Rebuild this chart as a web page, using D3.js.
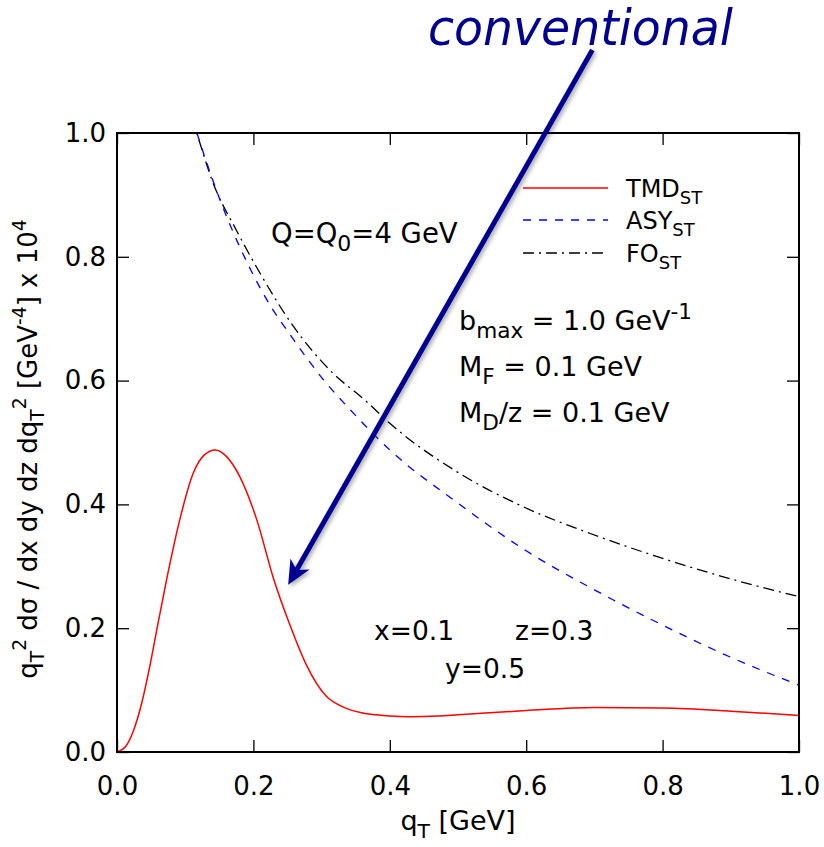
<!DOCTYPE html>
<html><head><meta charset="utf-8">
<script src="https://cdn.jsdelivr.net/npm/d3@7"></script>
<style>
html,body{margin:0;padding:0;background:#fff;}
text{font-family:"DejaVu Sans",sans-serif;fill:#000;}
</style></head>
<body>
<svg id="chart" width="824" height="847"></svg>
<script>
// ---- data ----
const tmdQ = [0, 0.012, 0.024, 0.036, 0.048, 0.060, 0.073, 0.092, 0.112, 0.128, 0.144, 0.160, 0.180, 0.205, 0.229, 0.254, 0.278, 0.307, 0.325, 0.342, 0.36, 0.38, 0.40, 0.43, 0.47, 0.50, 0.60, 0.70, 0.80, 0.90, 1.00];
const tmdV = [0, 0.008, 0.034, 0.078, 0.138, 0.207, 0.280, 0.375, 0.451, 0.480, 0.488, 0.478, 0.445, 0.375, 0.282, 0.204, 0.140, 0.090, 0.076, 0.068, 0.063, 0.060, 0.058, 0.057, 0.058, 0.060, 0.067, 0.072, 0.071, 0.066, 0.059];
const asyQ = [0.11, 0.127, 0.151, 0.180, 0.220, 0.259, 0.303, 0.347, 0.400, 0.50, 0.60, 0.70, 0.80, 0.90, 1.00];
const asyV = [1.025, 0.967, 0.892, 0.816, 0.730, 0.666, 0.601, 0.547, 0.488, 0.402, 0.325, 0.262, 0.205, 0.153, 0.108];
const foQ = [0.11, 0.117, 0.141, 0.175, 0.210, 0.259, 0.312, 0.366, 0.400, 0.498, 0.596, 0.694, 0.791, 0.889, 1.00];
const foV = [1.025, 1.0, 0.919, 0.843, 0.773, 0.687, 0.617, 0.566, 0.531, 0.453, 0.396, 0.353, 0.316, 0.283, 0.251];
const tickVals = [0, 0.2, 0.4, 0.6, 0.8, 1.0];
const tickLabels = ["0.0", "0.2", "0.4", "0.6", "0.8", "1.0"];
const legendNames = [["TMD","ST"], ["ASY","ST"], ["FO","ST"]];
// annotation arrow (data units): from tail to tip
const arrowTail = [0.697, 1.134];
const arrowTip = [0.251, 0.270];

// ---- layout ----
const svg = d3.select("#chart");
const L = 117, R = 799, T = 133, B = 752;
const x = d3.scaleLinear().domain([0, 1]).range([L, R]);
const y = d3.scaleLinear().domain([0, 1]).range([B, T]);

const defs = svg.append("defs");
defs.append("clipPath").attr("id", "clip").append("rect")
  .attr("x", L).attr("y", T).attr("width", R - L).attr("height", B - T);
const f = defs.append("filter").attr("id", "shadow").attr("x", "-20%").attr("y", "-20%").attr("width", "140%").attr("height", "140%");
f.append("feDropShadow").attr("dx", 2).attr("dy", 2).attr("stdDeviation", 2).attr("flood-color", "#000").attr("flood-opacity", 0.35);

// axes
const fmt = (d) => tickLabels[tickVals.indexOf(d)];
const gL = svg.append("g").attr("transform", `translate(${L},0)`)
  .call(d3.axisLeft(y).tickValues(tickVals).tickFormat(fmt).tickSize(-12).tickPadding(11));
const gB = svg.append("g").attr("transform", `translate(0,${B})`)
  .call(d3.axisBottom(x).tickValues(tickVals).tickFormat(fmt).tickSize(-12).tickPadding(25));
const gR = svg.append("g").attr("transform", `translate(${R},0)`)
  .call(d3.axisRight(y).tickValues(tickVals).tickFormat("").tickSize(-12));
const gT = svg.append("g").attr("transform", `translate(0,${T})`)
  .call(d3.axisTop(x).tickValues(tickVals).tickFormat("").tickSize(-12));
[gL, gB, gR, gT].forEach(g => {
  g.select(".domain").remove();
  g.selectAll(".tick line").attr("stroke", "#000").attr("stroke-width", 1.3);
  g.selectAll("text").attr("font-family", "DejaVu Sans").attr("font-size", 26).attr("fill", "#000");
});

// curves
const line = d3.line().x(d => x(d[0])).y(d => y(d[1])).curve(d3.curveMonotoneX);
const plot = svg.append("g").attr("clip-path", "url(#clip)");
plot.append("path").datum(foQ.map((q, i) => [q, foV[i]]))
  .attr("d", line).attr("fill", "none").attr("stroke", "#000").attr("stroke-width", 1.3)
  .attr("stroke-dasharray", "11,5,2,5");
plot.append("path").datum(asyQ.map((q, i) => [q, asyV[i]]))
  .attr("d", line).attr("fill", "none").attr("stroke", "#0000ff").attr("stroke-width", 1.3)
  .attr("stroke-dasharray", "8,8");
plot.append("path").datum(tmdQ.map((q, i) => [q, tmdV[i]]))
  .attr("d", line).attr("fill", "none").attr("stroke", "#ff0000").attr("stroke-width", 1.5);

// frame
svg.append("rect").attr("x", L).attr("y", T).attr("width", R - L).attr("height", B - T)
  .attr("fill", "none").attr("stroke", "#000").attr("stroke-width", 2);

// legend
const legStyles = [
  {c: "#ff0000", d: null},
  {c: "#0000ff", d: "8,8"},
  {c: "#000", d: "11,5,2,5"}
];
const legY = [188, 220, 253];
legendNames.forEach((n, i) => {
  svg.append("line").attr("x1", 523).attr("x2", 608).attr("y1", legY[i]).attr("y2", legY[i])
    .attr("stroke", legStyles[i].c).attr("stroke-width", 1.5)
    .attr("stroke-dasharray", legStyles[i].d);
  const t = svg.append("text").attr("x", 626).attr("y", legY[i] + 9).attr("font-size", 24);
  t.append("tspan").text(n[0]);
  t.append("tspan").attr("font-size", 18).attr("dy", 7).text(n[1]);
});

// text annotations
function rich(sel, parts, size, sc) {
  sc = sc || 0.75;
  let shift = 0;
  parts.forEach(p => {
    const ts = sel.append("tspan").text(p.t);
    const target = p.s === "sub" ? 0.28 * size : p.s === "sup" ? -0.42 * size : 0;
    ts.attr("dy", target - shift);
    shift = target;
    if (p.s) ts.attr("font-size", size * sc);
  });
  return sel;
}
function label(xp, yp, parts, size, sc) {
  return rich(svg.append("text").attr("x", xp).attr("y", yp).attr("font-size", size), parts, size, sc);
}
label(271, 243, [{t: "Q=Q"}, {t: "0", s: "sub"}, {t: "=4 GeV"}], 27.5, 0.8);
label(459, 330, [{t: "b"}, {t: "max", s: "sub"}, {t: " = 1.0 GeV"}, {t: "-1", s: "sup"}], 27, 0.8);
label(459, 376, [{t: "M"}, {t: "F", s: "sub"}, {t: " = 0.1 GeV"}], 27, 0.8);
label(459, 422, [{t: "M"}, {t: "D", s: "sub"}, {t: "/z = 0.1 GeV"}], 27, 0.8);
label(374, 640, [{t: "x=0.1"}], 26.5);
label(515, 640, [{t: "z=0.3"}], 26.5);
label(445, 678, [{t: "y=0.5"}], 26.5);

// axis titles
label((L + R) / 2, 830, [{t: "q"}, {t: "T", s: "sub"}, {t: " [GeV]"}], 27, 0.75).attr("text-anchor", "middle");

const yt = svg.append("text").attr("transform", "translate(37,449) rotate(-90)")
  .attr("font-size", 26).attr("text-anchor", "middle");
rich(yt, [
  {t: "q"}, {t: "T", s: "sub"}, {t: "2", s: "sup"}, {t: " dσ / dx dy dz dq"}, {t: "T", s: "sub"}, {t: "2", s: "sup"},
  {t: " [GeV"}, {t: "-4", s: "sup"}, {t: "] x 10"}, {t: "4", s: "sup"}
], 26, 0.72);

// arrow annotation
const ax0 = x(arrowTail[0]), ay0 = y(arrowTail[1]), ax1 = x(arrowTip[0]), ay1 = y(arrowTip[1]);
const dx = ax1 - ax0, dy = ay1 - ay0, len = Math.hypot(dx, dy);
const ux = dx / len, uy = dy / len, px = -uy, py = ux;
const headL = 24, headW = 11, notch = 17;
const arrow = svg.append("g").attr("filter", "url(#shadow)");
arrow.append("line").attr("x1", ax0).attr("y1", ay0)
  .attr("x2", ax1 - ux * notch).attr("y2", ay1 - uy * notch)
  .attr("stroke", "#000090").attr("stroke-width", 5);
const pts = [
  [ax1, ay1],
  [ax1 - ux * headL + px * headW, ay1 - uy * headL + py * headW],
  [ax1 - ux * notch, ay1 - uy * notch],
  [ax1 - ux * headL - px * headW, ay1 - uy * headL - py * headW]
];
arrow.append("polygon").attr("points", pts.map(p => p.join(",")).join(" ")).attr("fill", "#000090");

svg.append("text").attr("x", 428).attr("y", 45)
  .attr("font-family", "Open Sans").attr("font-style", "italic")
  .attr("font-size", 50).attr("textLength", 305).attr("lengthAdjust", "spacingAndGlyphs")
  .style("fill", "#000090").text("conventional");
</script>
</body></html>
